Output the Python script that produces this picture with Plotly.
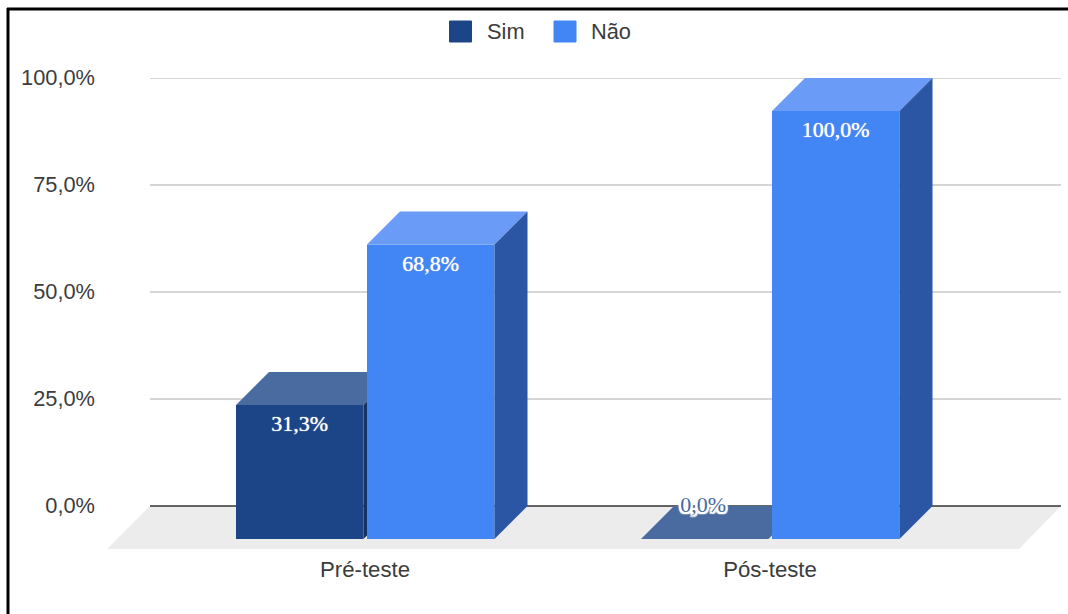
import plotly.graph_objects as go

categories = ["Pré-teste", "Pós-teste"]
sim_values = [31.3, 0.0]
nao_values = [68.8, 100.0]
sim_labels = ["31,3%", "0,0%"]
nao_labels = ["68,8%", "100,0%"]
y_ticks = [0, 25, 50, 75, 100]
y_tick_labels = ["0,0%", "25,0%", "50,0%", "75,0%", "100,0%"]

W, H = 1068, 614
L, R, T, B = 107, 1061, 78, 549
PX_X = 405.0
PX_Y = 4.28
X0_PX = 365.0
xr = [(L - X0_PX) / PX_X, (R - X0_PX) / PX_X]
yr = [-(B - 506) / PX_Y, 100]
DX = 33 / PX_X
DY = 33 / PX_Y
BAR = 127.5 / PX_X
SIM_OFF = -129 / PX_X
NAO_OFF = 2 / PX_X
GRID_L = (150 - X0_PX) / PX_X
GRID_R = xr[1]

C_SIM, C_SIM_TOP, C_SIM_SIDE = "#1c4587", "#4a6ba0", "#143264"
C_NAO, C_NAO_TOP, C_NAO_SIDE = "#4285f4", "#6a9bf6", "#2b56a3"
TXT = "#3c3c3c"
SANS = "Liberation Sans"
SERIF = "Liberation Serif"
FS = 21.8
HALO = ", ".join(f"{a}px {b}px 1px #ffffff" for a in (-2, -1, 0, 1, 2) for b in (-2, -1, 0, 1, 2))


def poly(pts):
    return "M " + " L ".join(f"{x:.5f} {y:.5f}" for x, y in pts) + " Z"


def face(pts, color, layer):
    return dict(type="path", path=poly(pts), xref="x", yref="y",
                fillcolor=color, line=dict(width=0), layer=layer)


def px(x):
    return (x - L) / (R - L)


def py(y):
    return (B - y) / (B - T)


shapes = []
# floor
shapes.append(face([(GRID_L, 0), (GRID_R, 0),
                    (GRID_R - 42 / PX_X, yr[0]), (xr[0], yr[0])], "#ececec", "below"))
# grid
for t in y_ticks:
    shapes.append(dict(type="line", xref="x", yref="y", x0=GRID_L, x1=GRID_R, y0=t, y1=t,
                       line=dict(color="#333333" if t == 0 else "#c8c8c8", width=1.6),
                       layer="below"))


def faces(i, v, off, top, side, layer):
    x0 = i + off
    x1 = x0 + BAR
    ft = v - DY
    fb = -DY
    out = [face([(x0, ft), (x1, ft), (x1 + DX, ft + DY), (x0 + DX, ft + DY)], top, layer)]
    if v > 0:
        out.append(face([(x1, ft), (x1 + DX, ft + DY), (x1 + DX, fb + DY), (x1, fb)], side, layer))
    return out


for i, v in enumerate(sim_values):
    shapes += faces(i, v, SIM_OFF, C_SIM_TOP, C_SIM_SIDE, "below")
for i, v in enumerate(nao_values):
    shapes += faces(i, v, NAO_OFF, C_NAO_TOP, C_NAO_SIDE, "above")

# image frame (left and top only)
shapes.append(dict(type="line", xref="paper", yref="paper", x0=px(8), x1=px(8), y0=py(8), y1=py(H),
                   line=dict(color="#000000", width=3)))
shapes.append(dict(type="line", xref="paper", yref="paper", x0=px(7), x1=px(W), y0=py(9), y1=py(9),
                   line=dict(color="#000000", width=3)))

# legend
annotations = []
for x_sq, x_txt, color, name in [(449.5, 487, C_SIM, "Sim"), (554, 591, C_NAO, "Não")]:
    shapes.append(dict(type="rect", xref="paper", yref="paper", x0=px(x_sq), x1=px(x_sq + 22),
                       y0=py(42), y1=py(21), fillcolor=color, line=dict(width=1, color=color)))
    annotations.append(dict(xref="paper", yref="paper", x=px(x_txt), y=py(31.5), text=name,
                            showarrow=False, xanchor="left", yanchor="middle",
                            font=dict(family=SANS, size=FS, color=TXT), xshift=-2))

fig = go.Figure()
xs = list(range(len(categories)))
fig.add_trace(go.Bar(x=xs, y=sim_values, base=-DY, width=BAR, offset=SIM_OFF, name="Sim",
                     marker=dict(color=C_SIM, line=dict(width=0))))
fig.add_trace(go.Bar(x=xs, y=nao_values, base=-DY, width=BAR, offset=NAO_OFF, name="Não",
                     marker=dict(color=C_NAO, line=dict(width=0))))

for vals, labs, off in [(sim_values, sim_labels, SIM_OFF), (nao_values, nao_labels, NAO_OFF)]:
    for i, (v, lab) in enumerate(zip(vals, labs)):
        cx = i + off + BAR / 2
        if v > 0:
            fig.add_trace(go.Scatter(x=[cx], y=[v - DY - 20.5 / PX_Y], mode="text", text=[lab],
                                     textposition="middle center", hoverinfo="skip",
                                     cliponaxis=False,
                                     textfont=dict(family=SERIF, size=22, color="#ffffff",
                                                   shadow="0 0 1px #ffffff")))
        else:
            fig.add_trace(go.Scatter(x=[cx - 1.5 / PX_X], y=[v], mode="text", text=[lab],
                                     textposition="middle center", hoverinfo="skip",
                                     cliponaxis=False,
                                     textfont=dict(family=SERIF, size=22, color=C_SIM_TOP,
                                                   shadow=HALO)))

fig.update_layout(
    width=W, height=H, autosize=False,
    margin=dict(l=L, r=W - R, t=T, b=H - B, pad=0, autoexpand=False),
    paper_bgcolor="#ffffff", plot_bgcolor="rgba(0,0,0,0)",
    showlegend=False, shapes=shapes, annotations=annotations,
    barmode="overlay",
    xaxis=dict(range=xr, tickmode="array", tickvals=xs, ticktext=categories, showgrid=False,
               zeroline=False, showline=False, ticks="", ticklabelstandoff=5,
               tickfont=dict(family=SANS, size=22.2, color=TXT), fixedrange=True),
    yaxis=dict(range=yr, tickmode="array", tickvals=y_ticks, ticktext=y_tick_labels, showgrid=False,
               zeroline=False, showline=False, ticks="", ticklabelstandoff=11, ticklabelshift=-1,
               tickfont=dict(family=SANS, size=FS, color=TXT), fixedrange=True),
)
fig.write_html("out.html", config={"displayModeBar": False},
               post_script="document.documentElement.style.margin='0';document.body.style.margin='0';")
